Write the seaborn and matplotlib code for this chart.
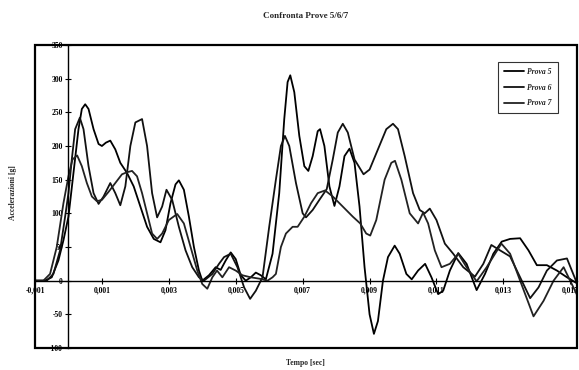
import numpy as np
import pandas as pd
import matplotlib
matplotlib.use("Agg")
import matplotlib.pyplot as plt
import seaborn as sns
from matplotlib.patches import Rectangle
from matplotlib.ticker import FixedLocator, FuncFormatter

# ---- data (time in ms, acceleration in g) ----
t5 = [-1.0, -0.7, -0.5, -0.3, -0.15, 0.0, 0.15, 0.3, 0.4, 0.5, 0.6, 0.75, 0.9, 1.0, 1.12, 1.25, 1.4, 1.55,
      1.75, 1.95, 2.15, 2.35, 2.55, 2.75, 2.9, 3.05, 3.2, 3.3, 3.45, 3.6, 3.75, 3.9, 4.0, 4.2, 4.4, 4.55,
      4.7, 4.85, 5.0, 5.15, 5.3, 5.45, 5.6, 5.75, 5.9, 6.1, 6.3, 6.45, 6.55, 6.63, 6.75, 6.9, 7.05, 7.17,
      7.3, 7.45, 7.52, 7.65, 7.8, 7.95, 8.1, 8.25, 8.4, 8.55, 8.7, 8.85, 9.0, 9.13, 9.25, 9.4, 9.55, 9.75,
      9.9, 10.1, 10.26, 10.45, 10.66, 10.85, 11.05, 11.2, 11.4, 11.65, 11.9, 12.2, 12.45, 12.7, 12.95, 13.2,
      13.5, 13.75, 14.0, 14.3, 14.6, 14.9, 15.2]
v5 = [0, 0, 5, 30, 60, 95, 160, 225, 255, 262, 255, 225, 203, 200, 205, 208, 195, 175,
      160, 140, 110, 80, 62, 57, 75, 115, 143, 149, 135, 95, 50, 15, 0, 8, 20, 16,
      30, 42, 32, 8, 0, 5, 12, 8, 2, 40, 130, 240, 295, 305, 280, 215, 170, 163,
      185, 222, 225, 200, 140, 111, 140, 185, 196, 175, 110, 20, -50, -79, -60, 0, 35, 52,
      40, 10, 2, 15, 25, 5, -20, -15, 15, 41, 25, -14, 10, 40, 58, 62,
      63, 45, 23, 23, 15, 5, -4]

t6 = [-1.0, -0.65, -0.45, -0.25, -0.1, 0.0, 0.1, 0.2, 0.34, 0.45, 0.6, 0.75, 0.9, 1.05, 1.25, 1.4, 1.55,
      1.7, 1.85, 2.0, 2.2, 2.35, 2.5, 2.65, 2.8, 2.93, 3.1, 3.3, 3.5, 3.7, 3.9, 4.05, 4.3, 4.5, 4.65,
      4.85, 5.05, 5.25, 5.43, 5.6, 5.8, 6.0, 6.2, 6.35, 6.47, 6.6, 6.8, 7.0, 7.1, 7.3, 7.5, 7.72,
      7.9, 8.05, 8.2, 8.35, 8.55, 8.82, 9.0, 9.25, 9.5, 9.7, 9.85, 10.05, 10.3, 10.5, 10.65, 10.8,
      11.0, 11.25, 11.5, 11.8, 12.15, 12.4, 12.64, 12.9, 13.2, 13.5, 13.8, 14.05, 14.3, 14.6, 14.9, 15.2]
v6 = [0, 0, 10, 45, 95, 130, 180, 225, 242, 225, 170, 130, 114, 125, 145, 130, 112,
      140, 200, 235, 240, 200, 130, 94, 110, 135, 120, 80, 45, 20, 5, 0, 10, 25, 35,
      40, 20, -10, -27, -15, 5, 80, 150, 200, 215, 200, 145, 100, 94, 105, 120, 136,
      180, 220, 233, 220, 180, 158, 165, 195, 225, 233, 225, 185, 130, 105, 100, 107,
      90, 55, 40, 20, 6, 25, 53, 45, 36, 5, -26, -10, 15, 30, 33, -4]

t7 = [-1.0, -0.75, -0.55, -0.35, -0.15, 0.0, 0.12, 0.26, 0.4, 0.55, 0.7, 0.85, 1.0, 1.2, 1.4, 1.6, 1.75,
      1.9, 2.05, 2.2, 2.35, 2.5, 2.65, 2.8, 3.0, 3.25, 3.45, 3.65, 3.85, 4.0, 4.15, 4.3, 4.44, 4.6,
      4.8, 5.0, 5.2, 5.45, 5.7, 5.95, 6.1, 6.2, 6.35, 6.5, 6.7, 6.85, 7.05, 7.25, 7.45, 7.67, 7.9,
      8.2, 8.5, 8.72, 8.9, 9.02, 9.2, 9.45, 9.65, 9.76, 9.95, 10.2, 10.45, 10.6, 10.75, 10.95, 11.15,
      11.4, 11.65, 11.9, 12.2, 12.5, 12.94, 13.2, 13.5, 13.9, 14.2, 14.5, 14.8, 15.2]
v7 = [0, 0, 10, 50, 115, 155, 180, 186, 170, 145, 125, 118, 120, 132, 145, 158, 161,
      163, 155, 130, 100, 70, 62, 70, 90, 99, 85, 50, 15, -5, -12, 5, 15, 5,
      20, 15, 8, 5, 3, 0, 5, 10, 50, 70, 80, 80, 95, 115, 130, 134, 125,
      110, 95, 85, 70, 67, 90, 150, 175, 178, 150, 100, 85, 101, 85, 45, 20,
      25, 40, 20, -1, 20, 55, 40, 0, -53, -30, 0, 20, -21]

df = pd.concat([
    pd.DataFrame({"t": np.array(t5) / 1000.0, "v": v5, "serie": "Prova 5"}),
    pd.DataFrame({"t": np.array(t6) / 1000.0, "v": v6, "serie": "Prova 6"}),
    pd.DataFrame({"t": np.array(t7) / 1000.0, "v": v7, "serie": "Prova 7"}),
])

xticks = [-0.001, 0.001, 0.003, 0.005, 0.007, 0.009, 0.011, 0.013, 0.015]
yticks = [-100, -50, 0, 50, 100, 150, 200, 250, 300, 350]

sns.set_theme(style="white")
plt.rcParams["font.family"] = ["Liberation Serif", "DejaVu Serif"]

fig = plt.figure(figsize=(5.79, 3.70), dpi=100)
ax = fig.add_axes([35 / 579, 1 - 348 / 370, 542 / 579, 303 / 370])

sns.lineplot(data=df, x="t", y="v", hue="serie", style="serie",
             palette=["#000000", "#111111", "#222222"],
             dashes=False, sort=False, estimator=None, linewidth=1.3, ax=ax)

ax.set_xlim(-0.001, 0.0152)
ax.set_ylim(-100, 350)

# axes crossing at zero
for s in ["top", "right"]:
    ax.spines[s].set_visible(False)
ax.spines["left"].set_position(("data", 0))
ax.spines["bottom"].set_position(("data", 0))
ax.spines["left"].set_linewidth(1.0)
ax.spines["bottom"].set_linewidth(1.0)
ax.spines["left"].set_color("black")
ax.spines["bottom"].set_color("black")
ax.add_patch(Rectangle((0, 0), 1, 1, transform=ax.transAxes, fill=False,
                       edgecolor="black", linewidth=1.6, clip_on=False, zorder=5))

ax.xaxis.set_major_locator(FixedLocator(xticks))
ax.yaxis.set_major_locator(FixedLocator(yticks))
ax.xaxis.set_major_formatter(FuncFormatter(lambda x, p: f"{x:.3f}".replace(".", ",")))
ax.yaxis.set_major_formatter(FuncFormatter(lambda y, p: f"{y:.0f}"))
ax.tick_params(axis="both", which="major", direction="inout", length=4, width=0.8,
               labelsize=5.5, colors="black", pad=2, bottom=True, left=True)
for lab in ax.get_xticklabels() + ax.get_yticklabels():
    lab.set_fontweight("bold")

ax.set_xlabel("")
ax.set_ylabel("")
fig.text(0.527, 0.958, "Confronta Prove 5/6/7", ha="center", va="center",
         fontsize=6.5, fontweight="bold")
fig.text(0.022, 0.48, "Accelerazioni [g]", ha="center", va="center", rotation=90,
         fontsize=5.5, fontweight="bold")
fig.text(0.527, 0.019, "Tempo [sec]", ha="center", va="center",
         fontsize=5.5, fontweight="bold")

leg = ax.legend(loc="upper right", bbox_to_anchor=(0.972, 0.957), frameon=True,
                fontsize=5.5, handlelength=2.6, labelspacing=1.0, borderpad=0.8,
                handletextpad=0.4, fancybox=False, edgecolor="black")
leg.get_frame().set_linewidth(0.8)
for txt in leg.get_texts():
    txt.set_fontweight("bold")
    txt.set_fontstyle("italic")

fig.savefig("out.png", dpi=100)
